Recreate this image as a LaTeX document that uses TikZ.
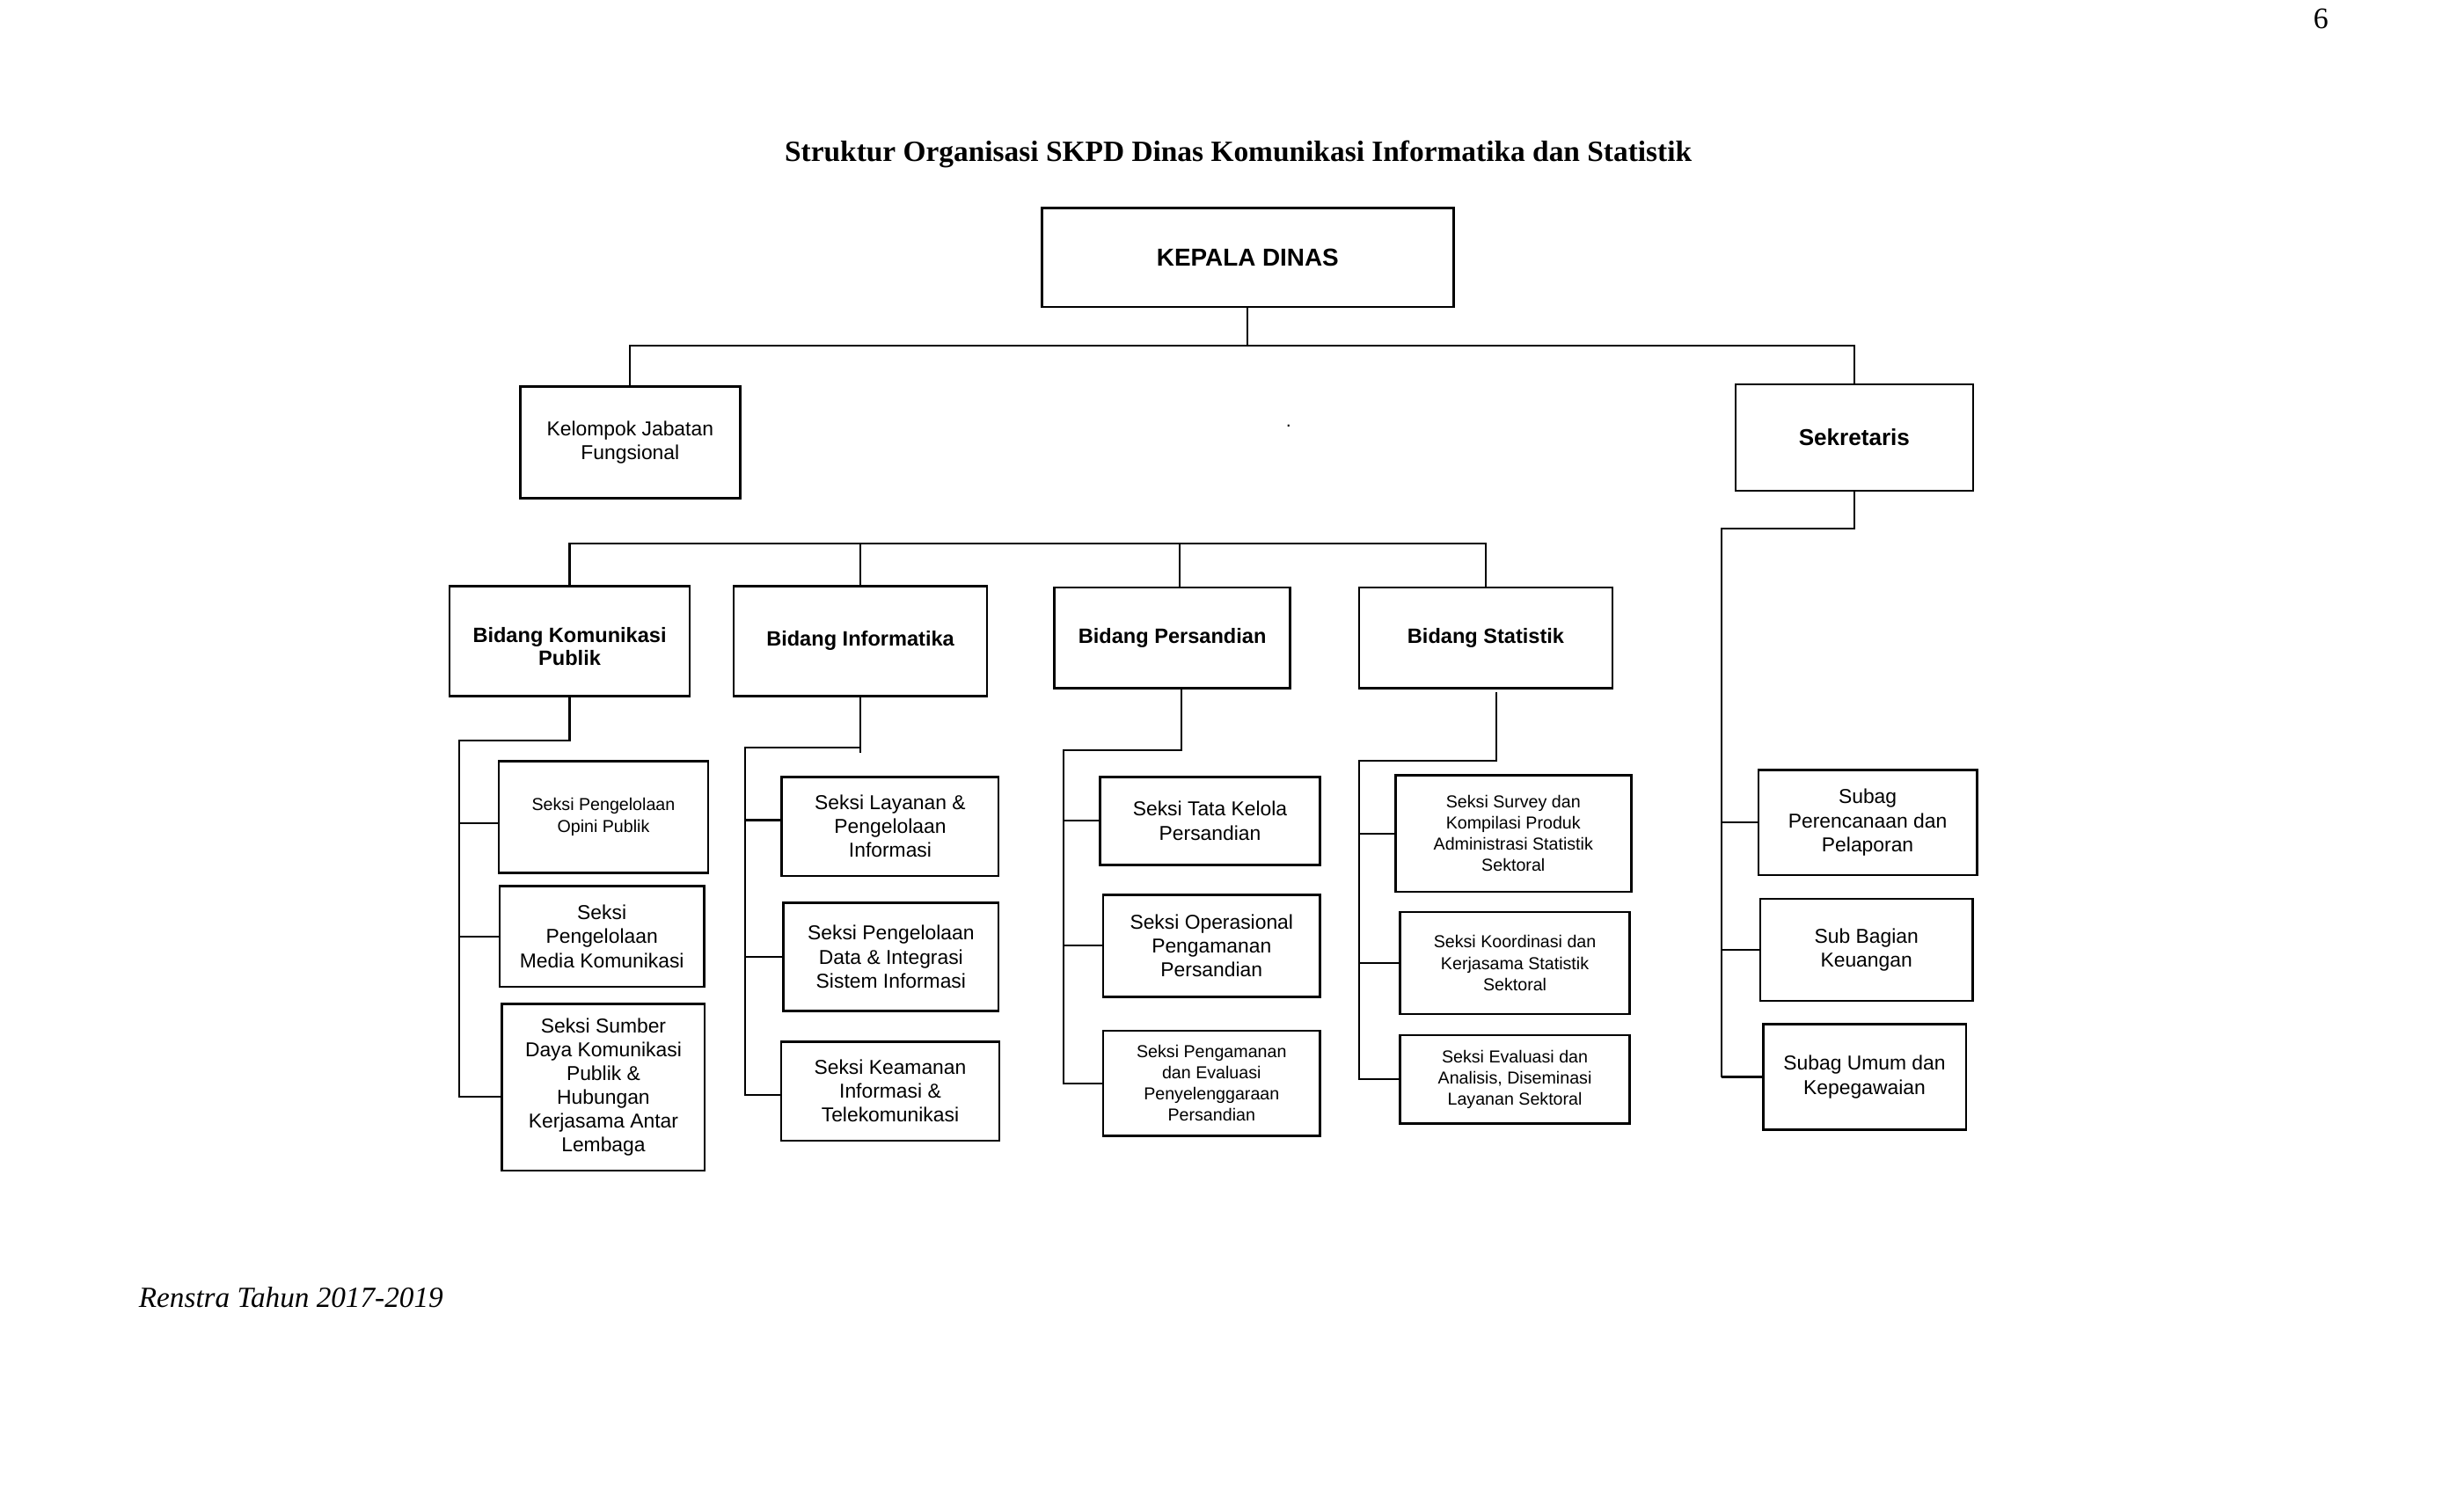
\documentclass[tikz,border=0pt]{standalone}
\usepackage{fontspec}
\setmainfont{Liberation Serif}
\newfontfamily\arial{Liberation Sans}
\begin{document}
\begin{tikzpicture}[x=0.5pt,y=-0.5pt,
  box/.style={draw, line width=0.7pt, align=center, inner sep=0pt},
  headbox/.style={box, font=\arial\bfseries\fontsize{7.8}{9}\selectfont},
  bidfont/.style={font=\arial\bfseries\fontsize{6.6}{7.5}\selectfont},
  bidbox/.style={box, bidfont},
  seksibox/.style={box, font=\arial\fontsize{6.4}{7.6}\selectfont},
  smallbox/.style={box, font=\arial\fontsize{5.5}{6.75}\selectfont},
  conn/.style={line width=0.6pt, line join=miter}]
\useasboundingbox (0,0) rectangle (1568,952.2);
\fill[white] (0,0) rectangle (1568,952.2);

% texts
\node[font=\fontsize{9.5}{11}\selectfont, inner sep=0pt] (pnum) at (1477,12) {6};
\node[font=\bfseries\fontsize{9.35}{11}\selectfont, inner sep=0pt] (title) at (788,98) {Struktur Organisasi SKPD Dinas Komunikasi Informatika dan Statistik};
\node[font=\itshape\fontsize{9.3}{11}\selectfont, inner sep=0pt, anchor=west] (footer) at (88,826) {Renstra Tahun 2017-2019};
\node[font=\arial\fontsize{6}{6}\selectfont, inner sep=0pt] (dot) at (820,271) {.};

% top level
\node[headbox, minimum width=131pt, minimum height=31.5pt] (kepala) at (794,164) {KEPALA DINAS};
\node[seksibox, minimum width=70pt, minimum height=35.5pt] (kjf) at (401,281.5) {Kelompok Jabatan\\Fungsional};
\node[headbox, font=\arial\bfseries\fontsize{7.3}{9}\selectfont, minimum width=75.5pt, minimum height=34pt] (sek) at (1180,278.5) {Sekretaris};

% bidang
\node[bidbox, minimum width=76.5pt, minimum height=35pt] (bkp) at (362.5,408) {};
\node[bidfont, align=center, inner sep=0pt] (bkptext) at ([yshift=-1.75pt]bkp.center) {Bidang Komunikasi\\Publik};
\node[bidbox, minimum width=80.5pt, minimum height=35pt] (binf) at (547.5,408) {Bidang Informatika};
\node[bidbox, minimum width=75pt, minimum height=32pt] (bper) at (746,406) {Bidang Persandian};
\node[bidbox, minimum width=80.5pt, minimum height=32pt] (bstat) at (945.5,406) {Bidang Statistik};

% seksi komunikasi
\node[smallbox, minimum width=66.5pt, minimum height=35.5pt] (k1) at (384,520) {Seksi Pengelolaan\\Opini Publik};
\node[seksibox, minimum width=65pt, minimum height=32pt] (k2) at (383,596) {Seksi\\Pengelolaan\\Media Komunikasi};
\node[seksibox, minimum width=64.5pt, minimum height=53pt] (k3) at (384,692) {Seksi Sumber\\Daya Komunikasi\\Publik \&\\Hubungan\\Kerjasama Antar\\Lembaga};

% seksi informatika
\node[seksibox, minimum width=69pt, minimum height=31.5pt] (i1) at (566.5,526) {Seksi Layanan \&\\Pengelolaan\\Informasi};
\node[seksibox, minimum width=68.5pt, minimum height=34.5pt] (i2) at (567,609) {Seksi Pengelolaan\\Data \& Integrasi\\Sistem Informasi};
\node[seksibox, minimum width=69.5pt, minimum height=31.5pt] (i3) at (566.5,694.5) {Seksi Keamanan\\Informasi \&\\Telekomunikasi};

% seksi persandian
\node[seksibox, minimum width=70pt, minimum height=28pt] (p1) at (770,522.5) {Seksi Tata Kelola\\Persandian};
\node[seksibox, minimum width=69pt, minimum height=32.5pt] (p2) at (771,602) {Seksi Operasional\\Pengamanan\\Persandian};
\node[smallbox, minimum width=69pt, minimum height=33.5pt] (p3) at (771,689.5) {Seksi Pengamanan\\dan Evaluasi\\Penyelenggaraan\\Persandian};

% seksi statistik
\node[smallbox, minimum width=75pt, minimum height=37pt] (s1) at (963,530.5) {Seksi Survey dan\\Kompilasi Produk\\Administrasi Statistik\\Sektoral};
\node[smallbox, minimum width=73pt, minimum height=32.5pt] (s2) at (964,613) {Seksi Koordinasi dan\\Kerjasama Statistik\\Sektoral};
\node[smallbox, minimum width=73pt, minimum height=28pt] (s3) at (964,687) {Seksi Evaluasi dan\\Analisis, Diseminasi\\Layanan Sektoral};

% subag
\node[seksibox, minimum width=69.5pt, minimum height=33.5pt] (g1) at (1188.5,523.5) {Subag\\Perencanaan dan\\Pelaporan};
\node[seksibox, minimum width=67.5pt, minimum height=32.5pt] (g2) at (1187.7,604.5) {Sub Bagian\\Keuangan};
\node[seksibox, minimum width=64.5pt, minimum height=33.5pt] (g3) at (1186.5,685.5) {Subag Umum dan\\Kepegawaian};

% top connectors
\coordinate (t1) at (794,220);
\draw[conn] (kepala.south) -- (t1);
\draw[conn] (kjf.north) |- (t1) -| (sek.north);

% sekretaris connectors
\coordinate (sk1) at (1095.5,336.5);
\draw[conn] (sek.south) |- (sk1) -- (sk1 |- g3.west);
\draw[conn] (sk1 |- g1.west) -- (g1.west);
\draw[conn] (sk1 |- g2.west) -- (g2.west);
\draw[conn] (sk1 |- g3.west) -- (g3.west);

% bidang bus
\coordinate (bb) at (0,346);
\coordinate (bperT) at ([xshift=2.25pt]bper.north);
\draw[conn] (bkp.north) |- (bstat.north |- bb) -- (bstat.north);
\draw[conn] (binf.north) -- (binf.north |- bb);
\draw[conn] (bperT) -- (bperT |- bb);

% column 1
\coordinate (c1) at (292,471.5);
\coordinate (k1w) at ([yshift=-2pt]k1.west);
\coordinate (k3w) at ([yshift=-3pt]k3.west);
\draw[conn] (bkp.south) |- (c1) -- (c1 |- k3w) -- (k3w);
\draw[conn] (c1 |- k1w) -- (k1w);
\draw[conn] (c1 |- k2.west) -- (k2.west);

% column 2
\coordinate (c2) at (474,476);
\coordinate (i1w) at ([yshift=2pt]i1.west);
\coordinate (i3w) at ([yshift=-1.25pt]i3.west);
\draw[conn] (binf.south) |- (c2) -- (c2 |- i3w) -- (i3w);
\draw[conn] (c2 -| binf.south) -- ++(0,3);
\draw[conn] (c2 |- i1w) -- (i1w);
\draw[conn] (c2 |- i2.west) -- (i2.west);

% column 3
\coordinate (c3) at (677,477.5);
\coordinate (bperB) at ([xshift=2.9pt]bper.south);
\draw[conn] (bperB) |- (c3) -- (c3 |- p3.west) -- (p3.west);
\draw[conn] (c3 |- p1.west) -- (p1.west);
\draw[conn] (c3 |- p2.west) -- (p2.west);

% column 4
\coordinate (c4) at (865,484.3);
\coordinate (bstB) at ([xshift=3.25pt,yshift=-1pt]bstat.south);
\draw[conn] (bstB) |- (c4) -- (c4 |- s3.west) -- (s3.west);
\draw[conn] (c4 |- s1.west) -- (s1.west);
\draw[conn] (c4 |- s2.west) -- (s2.west);
\end{tikzpicture}
\end{document}
